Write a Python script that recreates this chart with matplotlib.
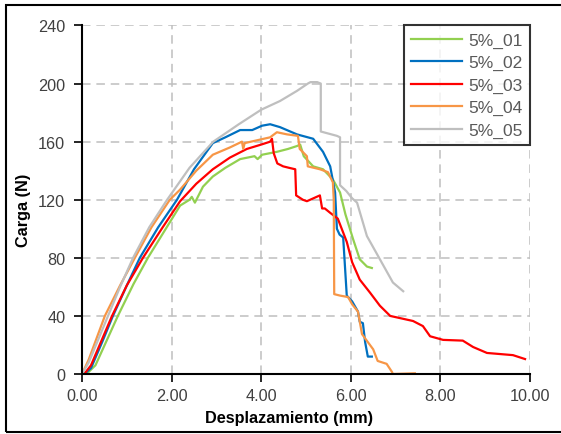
import matplotlib
matplotlib.use("Agg")
import matplotlib.pyplot as plt
from matplotlib.patches import Rectangle

plt.rcParams["font.family"] = ["Liberation Sans", "DejaVu Sans"]

# Desplazamiento (mm) / Carga (N) for each specimen
x_01 = [0.10, 0.30, 0.80, 1.15, 1.47, 1.85, 2.19, 2.40, 2.45, 2.52, 2.70, 2.92, 3.20, 3.53,
        3.85, 3.92, 4.02, 4.35, 4.60, 4.80, 4.87, 4.95, 5.16, 5.38, 5.60, 5.76, 5.88, 6.05,
        6.20, 6.36, 6.47]
y_01 = [0, 6, 40, 62, 80, 99, 116, 120, 122, 118, 129, 136, 142, 148,
        150, 148, 151, 153, 155, 157, 158, 150, 143, 141, 134, 125, 110, 93,
        79, 74, 73]

x_02 = [0.05, 0.20, 0.45, 0.69, 1.00, 1.29, 1.70, 2.12, 2.50, 2.92, 3.20, 3.53, 3.80, 4.02,
        4.20, 4.42, 4.80, 5.16, 5.38, 5.54, 5.65, 5.69, 5.75, 5.83, 5.91, 6.03, 6.16, 6.20,
        6.27, 6.32, 6.38, 6.47]
y_02 = [0, 4, 22, 40, 61, 80, 101, 120, 141, 159, 163, 168, 168, 171,
        172, 170, 165, 162, 153, 143, 125, 100, 96, 94, 54, 50, 43, 36,
        35, 22, 12, 12]

x_03 = [0.05, 0.20, 0.67, 1.00, 1.36, 1.80, 2.19, 2.55, 2.92, 3.30, 3.68, 4.00, 4.20, 4.24,
        4.28, 4.36, 4.49, 4.62, 4.76, 4.78, 4.93, 5.02, 5.31, 5.36, 5.42, 5.54, 5.71, 5.91,
        6.03, 6.20, 6.43, 6.65, 6.88, 7.39, 7.61, 7.77, 8.06, 8.50, 8.73, 9.04, 9.62, 9.89]
y_03 = [0, 6, 40, 61, 80, 101, 119, 131, 141, 149, 155, 158, 160, 162,
        152, 145, 143, 142, 141, 123, 120, 119, 123, 114, 114, 111, 107, 91,
        77, 65, 56, 47, 40, 36.5, 33, 26, 23.5, 23, 18.6, 14.5, 13, 10.3]

x_04 = [0.00, 0.15, 0.51, 0.85, 1.18, 1.55, 1.96, 2.19, 2.55, 2.92, 3.30, 3.57, 3.60, 3.63,
        4.20, 4.35, 4.58, 4.82, 4.86, 5.02, 5.04, 5.31, 5.49, 5.60, 5.62, 5.63, 5.76, 5.94,
        6.03, 6.16, 6.25, 6.38, 6.50, 6.60, 6.80, 6.92, 6.94, 7.43]
y_04 = [0, 10, 40, 61, 80, 101, 120, 127, 140, 151, 156, 160, 155, 159,
        163, 166.5, 165, 164, 155, 150, 143, 141, 139, 132, 120, 55, 54, 53,
        48, 43, 27.5, 22, 17, 9, 7, 1.4, 0, 0.5]

x_05 = [0.00, 0.15, 0.58, 0.85, 1.14, 1.50, 1.90, 2.40, 2.93, 3.50, 4.00, 4.42, 4.80, 5.04,
        5.10, 5.25, 5.33, 5.33, 5.69, 5.76, 5.76, 5.90, 6.03, 6.14, 6.36, 6.65, 6.94, 7.17]
y_05 = [0, 8, 40, 60, 80, 101, 120, 142, 160, 172, 182, 188, 195, 200,
        201, 201, 200, 167, 164, 163, 130, 126, 121, 118, 95, 79, 63, 57]

labels = ["5%_01", "5%_02", "5%_03", "5%_04", "5%_05"]
colors = ["#92d050", "#0070c0", "#ff0000", "#f79646", "#bfbfbf"]
series = [(x_01, y_01), (x_02, y_02), (x_03, y_03), (x_04, y_04), (x_05, y_05)]

fig = plt.figure(figsize=(5.61, 4.35), dpi=100)
ax = fig.add_axes([0.1462, 0.1379, 0.7985, 0.8012])

for (xs, ys), lab, col in zip(series, labels, colors):
    ax.plot(xs, ys, color=col, lw=1.6, label=lab)

ax.set_xlim(0, 10)
ax.set_ylim(0, 240)
ax.set_xticks([0, 2, 4, 6, 8, 10])
ax.set_yticks(range(0, 241, 40))
ax.set_xticklabels([f"{v:.2f}" for v in [0, 2, 4, 6, 8, 10]])

ax.grid(True, color="#bfbfbf", lw=1.1, linestyle=(0, (5.6, 3.8)))
ax.set_axisbelow(True)
for side in ["top", "right"]:
    ax.spines[side].set_visible(False)
for side in ["left", "bottom"]:
    ax.spines[side].set_linewidth(1.5)
ax.tick_params(direction="out", length=6, width=1.2, labelsize=11.7, colors="black")
ax.tick_params(axis="y", pad=6)
ax.tick_params(axis="x", pad=4)
for lbl in ax.get_xticklabels() + ax.get_yticklabels():
    lbl.set_color("#404040")

leg = ax.legend(loc="upper right", bbox_to_anchor=(1.0, 1.0), borderaxespad=0,
                fontsize=12.5, frameon=True, fancybox=False, handlelength=2.9,
                labelspacing=0.42, borderpad=0.4, handletextpad=0.4)
leg.get_frame().set_edgecolor("black")
leg.get_frame().set_linewidth(1.5)
for t in leg.get_texts():
    t.set_color("#595959")

fig.text(0.041, 0.517, "Carga (N)", rotation=90, ha="center", va="center",
         fontsize=11.7, fontweight="bold")
fig.text(0.515, 0.037, "Desplazamiento (mm)", ha="center", va="center",
         fontsize=11.7, fontweight="bold")

fig.add_artist(Rectangle((0.0107, 0.0046), 1.0, 0.981, transform=fig.transFigure,
                         fill=False, lw=1.5, edgecolor="black"))

fig.savefig("out.png", dpi=100)
